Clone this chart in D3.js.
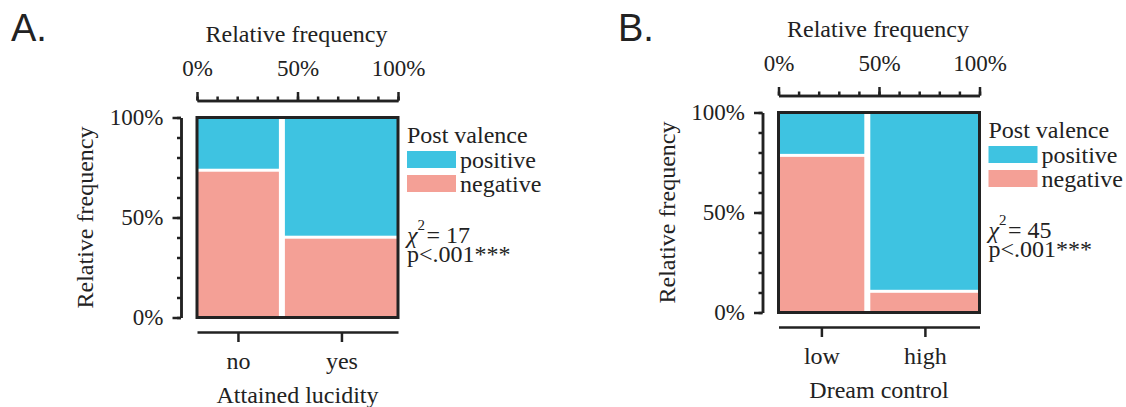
<!DOCTYPE html>
<html>
<head>
<meta charset="utf-8">
<script src="https://cdn.jsdelivr.net/npm/d3@7"></script>
<style>
  body { margin: 0; background: #fff; }
  svg text { font-family: 'Liberation Serif', 'DejaVu Serif', serif; fill: #222; }
</style>
</head>
<body>
<div id="chart"></div>
<script>
// data
var panelLetters = ['A.', 'B.'];
var xTitles = ['Attained lucidity', 'Dream control'];
var catsA = ['no', 'yes'];
var catsB = ['low', 'high'];
var colShareA = [0.42, 0.58];       // relative size of each x group
var colShareB = [0.44, 0.56];
var negShareA = [0.74, 0.40];       // share of "negative" inside each group
var negShareB = [0.79, 0.10];
var chiValues = [17, 45];
var pLabel = 'p<.001***';
var fillLevels = ['positive', 'negative'];
var fillColors = ['#3ec3e1', '#f4a096'];
var pctTicks = [0, 0.5, 1];
var minorTicks = d3.range(0, 11).map(function (d) { return d / 10; });

var panels = [
    { letter: panelLetters[0], cats: catsA, cols: colShareA, neg: negShareA, chi: chiValues[0], xTitle: xTitles[0],
      x0: 197, y0: 117.5, lx: 11 },
    { letter: panelLetters[1], cats: catsB, cols: colShareB, neg: negShareB, chi: chiValues[1], xTitle: xTitles[1],
      x0: 778.5, y0: 112.5, lx: 618 }
];

var width = 1126, height = 407,
    W = 201, H = 200,
    colGap = 6, rowGap = 3,
    ink = '#222',
    serif = "'Liberation Serif', 'DejaVu Serif', serif";

var svg = d3.select('#chart')
    .append('svg')
    .attr('width', width)
    .attr('height', height);

function pct(d) { return Math.round(d * 100) + '%'; }

function styleAxis(g) {
    g.attr('font-family', serif);
    g.select('.domain').attr('stroke', ink).attr('stroke-width', 2.5);
    g.selectAll('.tick line').attr('stroke', ink).attr('stroke-width', 2.5);
    g.selectAll('text').attr('fill', ink)
        .style('font-family', serif).style('font-size', '23px');
}

panels.forEach(function (p) {
    // panel letter
    svg.append('text')
        .attr('x', p.lx).attr('y', 41)
        .style('font-family', "'Liberation Sans', Arial, sans-serif")
        .style('font-size', '38px')
        .text(p.letter);

    var g = svg.append('g').attr('transform', 'translate(' + p.x0 + ',' + p.y0 + ')');

    var x = d3.scaleLinear().domain([0, 1]).range([0, W]);
    var y = d3.scaleLinear().domain([0, 1]).range([H, 0]);

    // mosaic tiles
    var colW = d3.scaleLinear().domain([0, 1]).range([0, W - colGap * (p.cols.length - 1)]);
    var rowH = d3.scaleLinear().domain([0, 1]).range([0, H - rowGap]);
    var tiles = [], centers = [], cx = 0;
    p.cols.forEach(function (share, i) {
        var w = colW(share);
        var hNeg = rowH(p.neg[i]), hPos = rowH(1 - p.neg[i]);
        tiles.push({ x: cx, y: 0, w: w, h: hPos, k: 0 });
        tiles.push({ x: cx, y: hPos + rowGap, w: w, h: hNeg, k: 1 });
        centers.push(x.invert(cx + w / 2));
        cx += w + colGap;
    });

    g.selectAll('rect.tile')
        .data(tiles)
        .enter()
        .append('rect')
        .attr('class', 'tile')
        .attr('x', function (d) { return d.x; })
        .attr('y', function (d) { return d.y; })
        .attr('width', function (d) { return d.w; })
        .attr('height', function (d) { return d.h; })
        .attr('fill', function (d) { return fillColors[d.k]; });

    g.append('rect')
        .attr('width', W).attr('height', H)
        .attr('fill', 'none')
        .attr('stroke', ink)
        .attr('stroke-width', 3);

    // top axis: minor then major ticks
    var topY = -17;
    g.append('g')
        .attr('transform', 'translate(0,' + topY + ')')
        .call(d3.axisTop(x).tickValues(minorTicks).tickSize(4).tickSizeOuter(0).tickFormat(''))
        .call(styleAxis);
    g.append('g')
        .attr('transform', 'translate(0,' + topY + ')')
        .call(d3.axisTop(x).tickValues(pctTicks).tickSize(8.5).tickSizeOuter(0).tickPadding(16).tickFormat(pct))
        .call(styleAxis);

    // left axis
    var leftX = -16;
    g.append('g')
        .attr('transform', 'translate(' + leftX + ',0)')
        .call(d3.axisLeft(y).tickValues(minorTicks).tickSize(4).tickSizeOuter(0).tickFormat(''))
        .call(styleAxis);
    g.append('g')
        .attr('transform', 'translate(' + leftX + ',0)')
        .call(d3.axisLeft(y).tickValues(pctTicks).tickSize(8.5).tickSizeOuter(0).tickPadding(9).tickFormat(pct))
        .call(styleAxis);

    // bottom axis at the group centres
    g.append('g')
        .attr('transform', 'translate(0,' + (H + 14.5) + ')')
        .call(d3.axisBottom(x).tickValues(centers).tickSize(10).tickSizeOuter(0).tickPadding(10)
            .tickFormat(function (d, i) { return p.cats[i]; }))
        .call(styleAxis)
        .selectAll('text').style('font-size', '24px');

    // titles
    g.append('text')
        .attr('x', W / 2 - 1).attr('y', -76)
        .attr('text-anchor', 'middle')
        .style('font-family', serif)
        .style('font-size', '24px')
        .text('Relative frequency');
    g.append('text')
        .attr('transform', 'translate(' + (-104) + ',' + (H / 2) + ') rotate(-90)')
        .attr('text-anchor', 'middle')
        .style('font-family', serif)
        .style('font-size', '24px')
        .text('Relative frequency');
    g.append('text')
        .attr('x', W / 2).attr('y', H + 85.5)
        .attr('text-anchor', 'middle')
        .style('font-family', serif)
        .style('font-size', '24px')
        .text(p.xTitle);

    // legend
    var lg = g.append('g').attr('transform', 'translate(' + (W + 9) + ',0)')
        .style('font-family', serif);
    lg.append('text').attr('x', 0).attr('y', 25.8)
        .style('font-size', '24px').text('Post valence');
    var item = lg.selectAll('g.item')
        .data(fillLevels)
        .enter()
        .append('g')
        .attr('class', 'item')
        .attr('transform', function (d, i) { return 'translate(0,' + (33.5 + i * 24) + ')'; });
    item.append('rect')
        .attr('width', 49).attr('height', 17)
        .attr('fill', function (d, i) { return fillColors[i]; });
    item.append('text')
        .attr('x', 53).attr('y', 17)
        .style('font-size', '24px')
        .text(function (d) { return d; });

    // test statistic, one text element with a raised "2"
    var st = lg.append('text').attr('x', 0).attr('y', 125.8).style('font-size', '24px');
    st.append('tspan').style('font-style', 'italic').text('\u03c7');
    st.append('tspan').attr('dy', -13).style('font-size', '15px').text('2');
    st.append('tspan').attr('dy', 13).attr('dx', 1.5).text('= ' + p.chi);
    lg.append('text').attr('x', 0).attr('y', 144.5)
        .style('font-size', '24px')
        .text(pLabel);
});
</script>
</body>
</html>
